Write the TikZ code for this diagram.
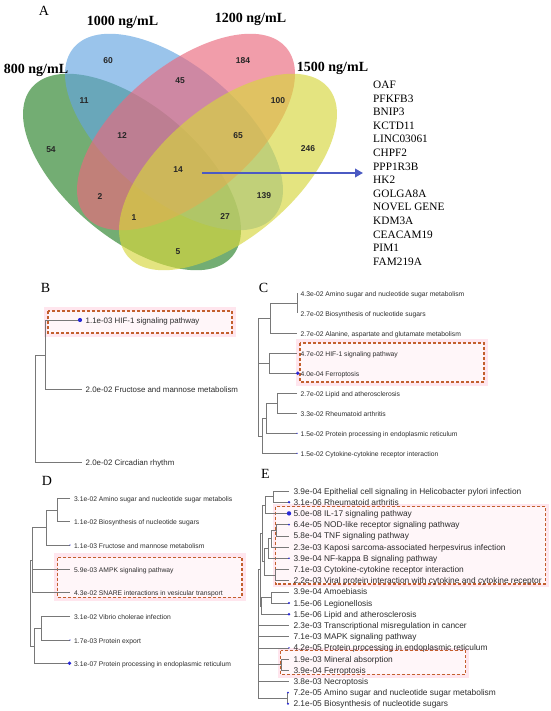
\documentclass[tikz,border=0pt]{standalone}
\usepackage{fontspec}
\setmainfont{Liberation Serif}
\newfontfamily\arialf{Liberation Sans}
\usetikzlibrary{arrows.meta}
\definecolor{vgreen}{RGB}{40,130,40}
\definecolor{vblue}{RGB}{100,165,225}
\definecolor{vpink}{RGB}{235,105,125}
\definecolor{vyellow}{RGB}{215,215,60}
\definecolor{arrowblue}{RGB}{75,90,195}
\definecolor{treegray}{RGB}{120,120,120}
\definecolor{labelgray}{RGB}{45,45,45}
\definecolor{dotblue}{RGB}{40,40,215}
\definecolor{boxbrown}{RGB}{195,95,45}
\definecolor{glowpink}{RGB}{255,230,238}
\definecolor{innerpink}{RGB}{255,246,249}
\tikzset{
  venn/.style={fill opacity=0.65},
  vnum/.style={font=\arialf\bfseries\fontsize{8.5}{9}\selectfont, inner sep=0pt, text=black!85},
  vlab/.style={font=\bfseries\fontsize{14}{14}\selectfont, inner sep=0pt},
  panel/.style={font=\fontsize{14}{14}\selectfont, inner sep=0pt},
  gene/.style={font=\fontsize{11.3}{12}\selectfont, anchor=west, inner sep=0pt, text height=.72em, text depth=.2em},
  lbl/.style={anchor=west, inner sep=0pt, text=labelgray, text height=.75em, text depth=.15em},
  lblB/.style={lbl, font=\arialf\fontsize{7.9}{8}\selectfont},
  lblC/.style={lbl, font=\arialf\fontsize{6.75}{7}\selectfont},
  lblE/.style={lbl, font=\arialf\fontsize{8.35}{8.5}\selectfont},
  tree/.style={draw=treegray, line width=0.6pt},
  hitbox/.style={draw=boxbrown, line width=1.1pt, dash pattern=on 3pt off 2pt, fill=innerpink},
  glow/.style={fill=glowpink, draw=none},
  pv/.style={fill=dotblue}
}
\begin{document}
\begin{tikzpicture}[x=1pt,y=-1pt]
\useasboundingbox (0,0) rectangle (550,711);
\fill[white] (0,0) rectangle (550,711);

% ---------------- Panel A : Venn ----------------
\node[panel] (labA) at (44,11) {A};
\begin{scope}[shift={(132,172)},rotate=-40]
  \fill[vgreen,venn] (0,0) ellipse [x radius=131pt, y radius=66pt];
\end{scope}
\begin{scope}[shift={(174,132)},rotate=-40]
  \fill[vblue,venn] (0,0) ellipse [x radius=131pt, y radius=66pt];
\end{scope}
\begin{scope}[shift={(186,132)},rotate=40]
  \fill[vpink,venn] (0,0) ellipse [x radius=131pt, y radius=66pt];
\end{scope}
\begin{scope}[shift={(228,172)},rotate=40]
  \fill[vyellow,venn] (0,0) ellipse [x radius=131pt, y radius=66pt];
\end{scope}

\node[vlab] (s800) at (36,70) {800 ng/mL};
\node[vlab] (s1000) at (122.5,22) {1000 ng/mL};
\node[vlab] (s1200) at (250.5,19) {1200 ng/mL};
\node[vlab] (s1500) at (332.5,68) {1500 ng/mL};

\node[vnum] (n60) at (108,61) {60};
\node[vnum] (n184) at (243,61) {184};
\node[vnum] (n45) at (180,81) {45};
\node[vnum] (n11) at (84,101) {11};
\node[vnum] (n100) at (278,101) {100};
\node[vnum] (n12) at (122,136) {12};
\node[vnum] (n65) at (238,136) {65};
\node[vnum] (n54) at (51,150) {54};
\node[vnum] (n14) at (178,170) {14};
\node[vnum] (n246) at (308,149) {246};
\node[vnum] (n2) at (100,197) {2};
\node[vnum] (n139) at (264,196) {139};
\node[vnum] (n1) at (134,218) {1};
\node[vnum] (n27) at (225,217) {27};
\node[vnum] (n5) at (178,252) {5};

\coordinate (arrS) at (202,173);
\coordinate (arrE) at (363,173);
\draw[arrowblue, line width=2.4pt, -{Triangle[length=8pt,width=8.5pt]}] (arrS) -- (arrE);

\foreach \g [count=\i] in {OAF,PFKFB3,BNIP3,KCTD11,LINC03061,CHPF2,PPP1R3B,HK2,GOLGA8A,NOVEL GENE,KDM3A,CEACAM19,PIM1,FAM219A}{
  \pgfmathsetmacro{\yy}{86+13.6*(\i-1)}
  \node[gene] (g\i) at (373,\yy) {\g};
}

% ---------------- Panel B ----------------
\node[panel] (labB) at (45.5,287.5) {B};
\fill[glow] (44,307) rectangle (236,337);
\draw[hitbox] (48,311) rectangle (232,333);
\draw[tree] (35,355) -- (35,462) -- (82,462);
\draw[tree] (35,355) -- (45,355);
\draw[tree] (78,320) -- (45,320) -- (45,389) -- (82,389);
\fill[pv] (80,320) circle[radius=2.1pt];
\node[lblB] (b1) at (85.5,320) {1.1e-03 HIF-1 signaling pathway};
\node[lblB] (b2) at (85.5,389) {2.0e-02 Fructose and mannose metabolism};
\node[lblB] (b3) at (85.5,462) {2.0e-02 Circadian rhythm};

% ---------------- Panel C ----------------
\node[panel] (labC) at (263.5,287.5) {C};
\fill[glow] (296,339) rectangle (488,386);
\draw[hitbox] (300,343) rectangle (484,382);
\draw[tree] (297,293.3) -- (297,313.3);
\draw[tree] (270,303.3) -- (297,303.3);
\draw[tree] (270,303.3) -- (270,333.3) -- (297,333.3);
\draw[tree] (258,318.3) -- (270,318.3);
\draw[tree] (297,353.3) -- (269,353.3) -- (269,373.3) -- (297,373.3);
\draw[tree] (258,363.3) -- (269,363.3);
\draw[tree] (297,393.3) -- (277,393.3) -- (277,413.3) -- (297,413.3);
\draw[tree] (266,403.3) -- (277,403.3);
\draw[tree] (266,403.3) -- (266,433.3) -- (297,433.3);
\draw[tree] (262,418.3) -- (266,418.3);
\draw[tree] (262,418.3) -- (262,453.3) -- (297,453.3);
\draw[tree] (258,435.8) -- (262,435.8);
\draw[tree] (258,318.3) -- (258,435.8);
\fill[pv] (297.7,373.3) circle[radius=1.9pt];
\fill[pv] (297,433.3) circle[radius=0.7pt];
\fill[pv] (297,453.3) circle[radius=0.7pt];
\foreach \t [count=\i] in {4.3e-02 Amino sugar and nucleotide sugar metabolism,
  2.7e-02 Biosynthesis of nucleotide sugars,
  {2.7e-02 Alanine, aspartate and glutamate metabolism},
  4.7e-02 HIF-1 signaling pathway,
  4.0e-04 Ferroptosis,
  2.7e-02 Lipid and atherosclerosis,
  3.3e-02 Rheumatoid arthritis,
  1.5e-02 Protein processing in endoplasmic reticulum,
  1.5e-02 Cytokine-cytokine receptor interaction}{
  \pgfmathsetmacro{\yy}{293.3+20*(\i-1)}
  \node[lblC] (c\i) at (300.5,\yy) {\t};
}

% ---------------- Panel D ----------------
\node[panel] (labD) at (47,481) {D};
\fill[glow] (54,553) rectangle (246,601);
\draw[hitbox] (57.7,557.7) rectangle (242,597.3);
\draw[tree] (70,498.3) -- (57,498.3) -- (57,521.7) -- (70,521.7);
\draw[tree] (46,510) -- (57,510);
\draw[tree] (46,510) -- (46,545) -- (70,545);
\draw[tree] (32,527.5) -- (46,527.5);
\draw[tree] (32,527.5) -- (32,592.7) -- (70,592.7);
\draw[tree] (32,569.3) -- (70,569.3);
\draw[tree] (70,616.7) -- (41,616.7) -- (41,640) -- (70,640);
\draw[tree] (34,628.3) -- (41,628.3);
\draw[tree] (34,628.3) -- (34,663.3) -- (70,663.3);
\draw[tree] (30,560) -- (32,560);
\draw[tree] (30,560) -- (30,645.8) -- (34,645.8);
\fill[pv] (70,545) circle[radius=0.7pt];
\fill[pv] (70,640) circle[radius=0.7pt];
\fill[pv] (69.5,663.3) circle[radius=1.9pt];
\foreach \t/\yy [count=\i] in {3.1e-02 Amino sugar and nucleotide sugar metabolis/498.3,
  1.1e-02 Biosynthesis of nucleotide sugars/521.7,
  1.1e-03 Fructose and mannose metabolism/545,
  5.9e-03 AMPK signaling pathway/569.3,
  4.3e-02 SNARE interactions in vesicular transport/592.7,
  3.1e-02 Vibrio cholerae infection/616.7,
  1.7e-03 Protein export/640,
  3.1e-07 Protein processing in endoplasmic reticulum/663.3}{
  \node[lblC] (d\i) at (74,\yy) {\t};
}

% ---------------- Panel E ----------------
\node[panel] (labE) at (265.5,474) {E};
\fill[glow] (272.5,503.5) rectangle (549,587);
\fill[glow] (277.5,647.5) rectangle (469,677.5);
\draw[hitbox] (275.7,506.7) rectangle (545.7,584);
\draw[hitbox] (280.7,650.7) rectangle (465.7,674.3);
\draw[tree] (289,491) -- (273,491) -- (273,502.2) -- (289,502.2);
\draw[tree] (265,496.6) -- (273,496.6);
\draw[tree] (265,496.6) -- (265,513.4) -- (289,513.4);
\draw[tree] (289,524.6) -- (276,524.6) -- (276,535.8) -- (289,535.8);
\draw[tree] (271,530.2) -- (276,530.2);
\draw[tree] (271,530.2) -- (271,547) -- (289,547);
\draw[tree] (268,538.6) -- (271,538.6);
\draw[tree] (268,538.6) -- (268,558.2) -- (289,558.2);
\draw[tree] (289,569.4) -- (275,569.4) -- (275,580.6) -- (289,580.6);
\draw[tree] (264,548.4) -- (268,548.4);
\draw[tree] (264,548.4) -- (264,575) -- (275,575);
\draw[tree] (262,505) -- (265,505);
\draw[tree] (262,505) -- (262,561.7) -- (264,561.7);
\draw[tree] (289,591.8) -- (271,591.8) -- (271,603) -- (289,603);
\draw[tree] (261,597.4) -- (271,597.4);
\draw[tree] (261,597.4) -- (261,614.2) -- (289,614.2);
\draw[tree] (260,533.4) -- (262,533.4);
\draw[tree] (260,533.4) -- (260,605.8) -- (261,605.8);
\draw[tree] (258,569.6) -- (260,569.6);
\draw[tree] (258,569.6) -- (258,698.2);
\draw[tree] (258,625.4) -- (289,625.4);
\draw[tree] (258,636.6) -- (289,636.6);
\draw[tree] (258,647.8) -- (289,647.8);
\draw[tree] (289,659) -- (281,659) -- (281,670.2) -- (289,670.2);
\draw[tree] (258,664.6) -- (281,664.6);
\draw[tree] (258,681.4) -- (289,681.4);
\draw[tree] (287.5,692.6) -- (287.5,703.8);
\draw[tree] (258,698.2) -- (287.5,698.2);
\fill[pv] (289,502.2) circle[radius=1.3pt];
\fill[pv] (289,513.4) circle[radius=2.2pt];
\fill[pv] (289,524.6) circle[radius=1.0pt];
\fill[pv] (289,558.2) circle[radius=0.8pt];
\fill[pv] (289,603) circle[radius=1.2pt];
\fill[pv] (289,614.2) circle[radius=1.3pt];
\fill[pv] (289,647.8) circle[radius=0.8pt];
\fill[pv] (288,692.6) circle[radius=1.1pt];
\fill[pv] (288,703.8) circle[radius=1.1pt];
\foreach \t [count=\i] in {3.9e-04 Epithelial cell signaling in Helicobacter pylori infection,
  3.1e-06 Rheumatoid arthritis,
  5.0e-08 IL-17 signaling pathway,
  6.4e-05 NOD-like receptor signaling pathway,
  5.8e-04 TNF signaling pathway,
  2.3e-03 Kaposi sarcoma-associated herpesvirus infection,
  3.9e-04 NF-kappa B signaling pathway,
  7.1e-03 Cytokine-cytokine receptor interaction,
  2.2e-03 Viral protein interaction with cytokine and cytokine receptor,
  3.9e-04 Amoebiasis,
  1.5e-06 Legionellosis,
  1.5e-06 Lipid and atherosclerosis,
  2.3e-03 Transcriptional misregulation in cancer,
  7.1e-03 MAPK signaling pathway,
  4.2e-05 Protein processing in endoplasmic reticulum,
  1.9e-03 Mineral absorption,
  3.9e-04 Ferroptosis,
  3.8e-03 Necroptosis,
  7.2e-05 Amino sugar and nucleotide sugar metabolism,
  2.1e-05 Biosynthesis of nucleotide sugars}{
  \pgfmathsetmacro{\yy}{491+11.2*(\i-1)}
  \node[lblE] (e\i) at (293.3,\yy) {\t};
}
\end{tikzpicture}
\end{document}
